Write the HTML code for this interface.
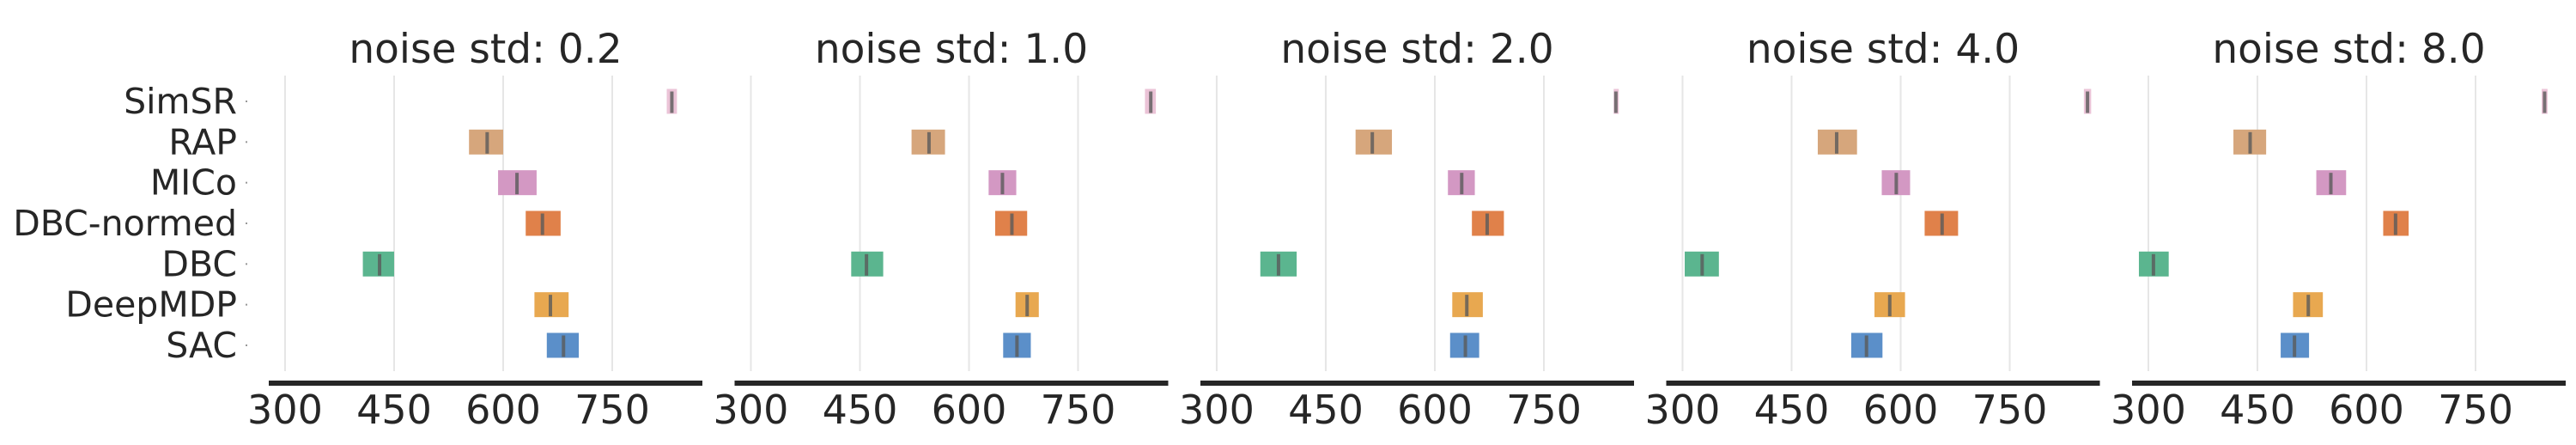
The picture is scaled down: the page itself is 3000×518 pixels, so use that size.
<!DOCTYPE html>
<html><head><meta charset="utf-8"><style>
html,body{margin:0;padding:0;background:#fff;}
svg{display:block;font-family:"DejaVu Sans","Liberation Sans",sans-serif;}
</style></head><body>
<svg id="chart" width="3000" height="518" viewBox="0 0 3000 518" xmlns="http://www.w3.org/2000/svg"></svg>
<script>
const methods = ["SimSR","RAP","MICo","DBC-normed","DBC","DeepMDP","SAC"];
const colors = ["#EBC3D7","#D6A67C","#D398C3","#E0814A","#5BB58F","#E8A850","#5B8FC9"];
const panelTitles = ["noise std: 0.2","noise std: 1.0","noise std: 2.0","noise std: 4.0","noise std: 8.0"];
const tickValues = [300,450,600,750];
// per panel: [low, high, median] per method (order = methods)
const lows = [
  [825,553,593,631,407,643,660],
  [842,521,627,636,438,664,647],
  [846,491,618,651,360,624,621],
  [852,486,574,633,303,564,532],
  [841,417,531,623,287,499,482]
];
const highs = [
  [839,600,646,679,450,690,704],
  [857,567,665,680,482,696,685],
  [853,541,655,695,410,666,661],
  [862,540,613,679,350,606,575],
  [849,462,572,658,328,540,521]
];
const medians = [
  [832,578,619,654,430,665,683],
  [850,545,646,659,459,680,666],
  [849,514,637,672,385,644,642],
  [857,512,594,657,327,585,553],
  [845,440,551,640,307,520,501]
];
const xMin = 277.6, xMax = 874;
const svg = document.getElementById('chart');
const NS = "http://www.w3.org/2000/svg";
function mk(tag, attrs){const e=document.createElementNS(NS,tag);for(const k in attrs)e.setAttribute(k,attrs[k]);return e;}
const axW = 505, gridTop = 88, gridBot = 432, rowY0 = 118, rowStep = 47.33, barH = 29;
function yRow(i){return rowY0 + i*rowStep;}
// y labels
methods.forEach((m,i)=>{
  const t = mk('text',{x:276,y:yRow(i)+14,'text-anchor':'end','font-size':41,fill:'#262626'});
  
  
  t.textContent = m; svg.appendChild(t);
  const d = mk('rect',{x:286,y:yRow(i)-1,width:2,height:2,fill:'#999'});
  
  
  svg.appendChild(d);
});
panelTitles.forEach((title,p)=>{
  const x0 = 313 + 542.5*p;
  const sx = v => x0 + (v - xMin)/(xMax - xMin)*axW;
  const g = mk('g',{});
  
  
  svg.appendChild(g);
  tickValues.forEach(v=>{
    const l = mk('line',{x1:sx(v),x2:sx(v),y1:gridTop,y2:gridBot,stroke:'#e6e6e6','stroke-width':2});
    
    
    g.appendChild(l);
    const t = mk('text',{x:sx(v),y:493,'text-anchor':'middle','font-size':46,fill:'#262626'});
    
    
    t.textContent = v; g.appendChild(t);
  });
  const ax = mk('rect',{x:x0,y:443,width:axW,height:6,fill:'#262626'});
  
  
  g.appendChild(ax);
  const tt = mk('text',{x:x0+axW/2,y:73,'text-anchor':'middle','font-size':47,fill:'#262626'});
  
  
  tt.textContent = title; g.appendChild(tt);
  methods.forEach((m,i)=>{
    const lo = lows[p][i], hi = highs[p][i], md = medians[p][i];
    const r = mk('rect',{x:sx(lo),y:yRow(i)-barH/2,width:Math.max(2,sx(hi)-sx(lo)),height:barH,fill:colors[i]});
    
    
    g.appendChild(r);
    const ml = mk('line',{x1:sx(md),x2:sx(md),y1:yRow(i)-barH/2+3,y2:yRow(i)+barH/2-1,stroke:'#5a5a5a','stroke-opacity':0.8,'stroke-width':4});
    
    
    g.appendChild(ml);
  });
});
</script>
</body></html>
